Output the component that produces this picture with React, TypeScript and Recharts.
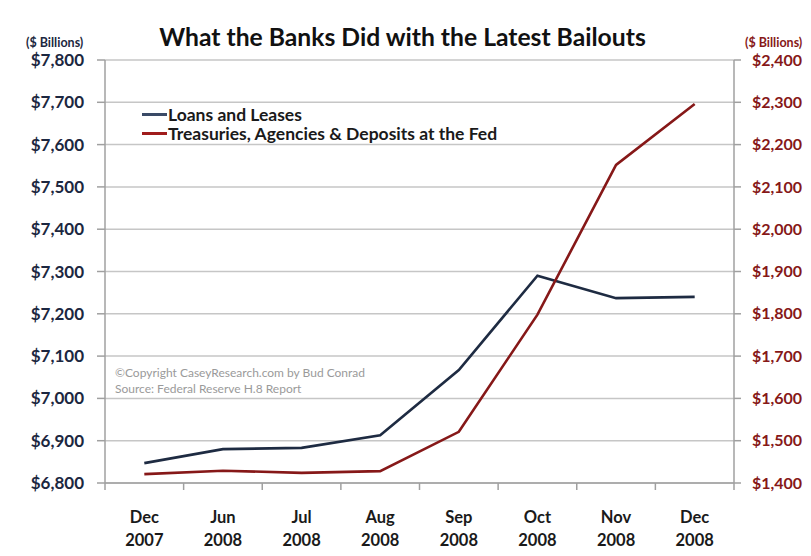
import React from "react";
import { LineChart, Line, XAxis, YAxis, CartesianGrid } from "recharts";

const months = ["Dec", "Jun", "Jul", "Aug", "Sep", "Oct", "Nov", "Dec"];
const years = ["2007", "2008", "2008", "2008", "2008", "2008", "2008", "2008"];
const loansAndLeases = [6847, 6880, 6883, 6913, 7067, 7290, 7237, 7240];
const treasuriesAgencies = [1421, 1429, 1424, 1428, 1521, 1798, 2152, 2296];
const leftTicks = [6800, 6900, 7000, 7100, 7200, 7300, 7400, 7500, 7600, 7700, 7800];
const rightTicks = [1400, 1500, 1600, 1700, 1800, 1900, 2000, 2100, 2200, 2300, 2400];

const data = months.map((m, i) => ({
  label: `${m} ${years[i]}`,
  month: m,
  year: years[i],
  loans: loansAndLeases[i],
  treasuries: treasuriesAgencies[i],
}));

const FONT = "Lato, 'Open Sans', sans-serif";
const NAVY = "#1e2b42";
const RED = "#861818";
const AXIS = "#a0a0a0";
const BW = 629 / 8;

const fmt = (v: number) => `$${v.toLocaleString("en-US")}`;

const XTick = (props: any) => {
  const { x, y, index } = props;
  const d = data[index];
  return (
    <g>
      <line x1={x - BW / 2} y1={y - 8} x2={x - BW / 2} y2={y - 1} stroke={AXIS} strokeWidth={1.5} />
      {index === data.length - 1 && (
        <line x1={x + BW / 2} y1={y - 8} x2={x + BW / 2} y2={y - 1} stroke={AXIS} strokeWidth={1.5} />
      )}
      <text x={x} y={y + 32} textAnchor="middle" fontFamily={FONT} fontWeight={700} fontSize={16.5} fill="#1a1a1a">
        {d ? d.month : ""}
      </text>
      <text x={x} y={y + 55} textAnchor="middle" fontFamily={FONT} fontWeight={700} fontSize={16.5} fill="#1a1a1a">
        {d ? d.year : ""}
      </text>
    </g>
  );
};

export default function App() {
  return (
    <div style={{ position: "relative", width: 811, height: 556, margin: "-8px 0 0 -8px", background: "#fff", overflow: "hidden" }}>
      <div style={{ position: "absolute", left: 0, top: 0, width: 8, height: 556, background: "#efefef" }} />
      <LineChart
        width={811}
        height={556}
        data={data}
        margin={{ top: 60, right: 7, bottom: 13, left: 15 }}
      >
        <CartesianGrid
          vertical={false}
          stroke="#c6c6c6"
          strokeWidth={1.5}
          yAxisId="left"
          horizontalValues={leftTicks}
        />
        <XAxis
          dataKey="label"
          height={60}
          tickLine={false}
          axisLine={{ stroke: AXIS, strokeWidth: 1.5 }}
          tick={<XTick />}
          interval={0}
          padding={{ left: BW / 2, right: BW / 2 }}
        />
        <YAxis
          yAxisId="left"
          orientation="left"
          width={90}
          domain={[6800, 7800]}
          ticks={leftTicks}
          tickFormatter={fmt}
          tickSize={8}
          tickMargin={13}
          tickLine={{ stroke: AXIS, strokeWidth: 1.5 }}
          axisLine={{ stroke: AXIS, strokeWidth: 1.5 }}
          tick={{ fill: "#1c2740", fontFamily: FONT, fontWeight: 700, fontSize: 17 }}
          interval={0}
        />
        <YAxis
          yAxisId="right"
          orientation="right"
          width={70}
          domain={[1400, 2400]}
          ticks={rightTicks}
          tickFormatter={fmt}
          tickSize={7}
          tickMargin={11}
          tickLine={{ stroke: AXIS, strokeWidth: 1.5 }}
          axisLine={{ stroke: AXIS, strokeWidth: 1.5 }}
          tick={{ fill: RED, fontFamily: FONT, fontWeight: 700, fontSize: 16 }}
          interval={0}
        />
        <Line
          yAxisId="left"
          dataKey="loans"
          name="Loans and Leases"
          stroke={NAVY}
          strokeWidth={2.6}
          dot={false}
          type="linear"
          isAnimationActive={false}
        />
        <Line
          yAxisId="right"
          dataKey="treasuries"
          name="Treasuries, Agencies & Deposits at the Fed"
          stroke={RED}
          strokeWidth={2.6}
          dot={false}
          type="linear"
          isAnimationActive={false}
        />
      </LineChart>
      <div style={{ position: "absolute", left: 142, top: 105, fontFamily: FONT, fontSize: 17.5, fontWeight: 700, color: "#1a1a1a", lineHeight: "19px" }}>
        <div style={{ display: "flex", alignItems: "center", whiteSpace: "nowrap" }}>
          <span style={{ display: "inline-block", width: 25, height: 2.5, background: "#3a4a66", marginRight: 1 }} />
          Loans and Leases
        </div>
        <div style={{ display: "flex", alignItems: "center", whiteSpace: "nowrap" }}>
          <span style={{ display: "inline-block", width: 25, height: 2.5, background: "#a01c1c", marginRight: 1 }} />
          Treasuries, Agencies &amp; Deposits at the Fed
        </div>
      </div>
      <div style={{ position: "absolute", left: 0, width: 811, top: 22, textAlign: "center", fontFamily: FONT, fontWeight: 700, fontSize: 24.7, color: "#111" }}>
        <span style={{ position: "relative", left: -3 }}>What the Banks Did with the Latest Bailouts</span>
      </div>
      <div style={{ position: "absolute", left: 26, top: 35, fontFamily: FONT, fontWeight: 700, fontSize: 12.5, color: "#1c2740" }}>
        ($ Billions)
      </div>
      <div style={{ position: "absolute", left: 745, top: 35, fontFamily: FONT, fontWeight: 700, fontSize: 12.5, color: RED, whiteSpace: "nowrap" }}>
        ($ Billions)
      </div>
      <div style={{ position: "absolute", left: 115, top: 365, fontFamily: FONT, fontSize: 12, color: "#9a9a9a", lineHeight: "16px" }}>
        <div>©Copyright CaseyResearch.com by Bud Conrad</div>
        <div>Source: Federal Reserve H.8 Report</div>
      </div>
    </div>
  );
}
